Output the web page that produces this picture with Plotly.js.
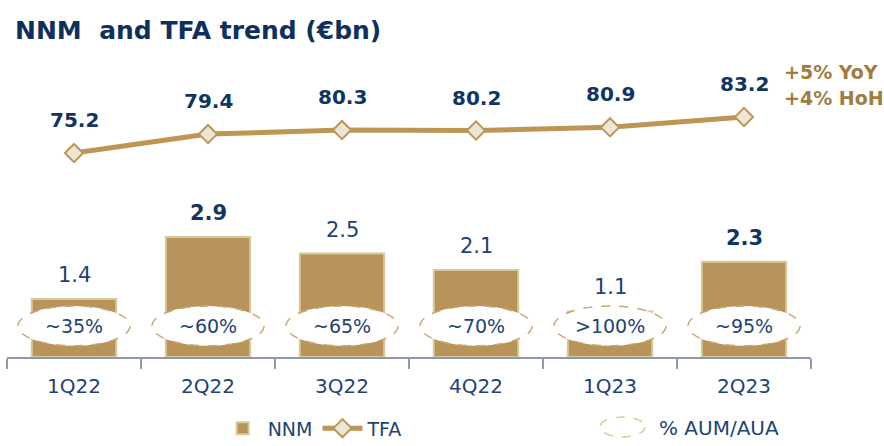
<!DOCTYPE html>
<html>
<head>
<meta charset="utf-8">
<script src="https://cdn.plot.ly/plotly-3.0.1.min.js"></script>
<style>html,body{margin:0;padding:0;background:#fff;}#chart{width:884px;height:446px;}</style>
</head>
<body>
<div id="chart"></div>
<script>
const categories = ['1Q22','2Q22','3Q22','4Q22','1Q23','2Q23'];
const nnm = [1.4, 2.9, 2.5, 2.1, 1.1, 2.3];
const nnmBold = [false, true, false, false, false, true];
const tfa = [75.2, 79.4, 80.3, 80.2, 80.9, 83.2];
const aumPct = ['~35%', '~60%', '~65%', '~70%', '>100%', '~95%'];
const growth = ['+5% YoY', '+4% HoH'];

const NAVY = '#0f3563';
const NAVY2 = '#1f4373';
const GOLD = '#b8935a';
const LINEGOLD = '#bd9656';
const FONT = 'DejaVu Sans';

const traces = [
  {
    type: 'bar', name: 'NNM', x: categories, y: nnm, width: 0.63,
    marker: {color: GOLD, line: {color: '#d8c99c', width: 2}},
    hoverinfo: 'skip', yaxis: 'y'
  },
  {
    type: 'scatter', mode: 'lines+markers', name: 'TFA', x: categories, y: tfa, yaxis: 'y2',
    line: {color: LINEGOLD, width: 5},
    marker: {symbol: 'diamond', size: 14, color: '#ebe6d6', line: {color: LINEGOLD, width: 2}},
    hoverinfo: 'skip'
  }
];

const annotations = [];
const shapes = [];
categories.forEach((c, i) => {
  annotations.push({
    xref: 'x', yref: 'y2', x: c, y: tfa[i], yshift: 33, showarrow: false,
    text: '<b>' + tfa[i].toFixed(1) + '</b>',
    font: {family: FONT, size: 20, color: NAVY}
  });
  annotations.push({
    xref: 'x', yref: 'y', x: c, y: nnm[i], yshift: 24, showarrow: false,
    text: nnmBold[i] ? '<b>' + nnm[i].toFixed(1) + '</b>' : nnm[i].toFixed(1),
    font: {family: FONT, size: 21, color: nnmBold[i] ? NAVY : NAVY2}
  });
  shapes.push({
    type: 'circle', xref: 'x', yref: 'y', layer: 'above',
    x0: i - 0.418, x1: i + 0.418, y0: 0.27, y1: 1.23,
    fillcolor: '#ffffff', line: {color: '#c9a673', width: 1.5, dash: 'dash'}
  });
  annotations.push({
    xref: 'x', yref: 'y', x: c, y: 0.75, showarrow: false,
    text: aumPct[i], font: {family: FONT, size: 19, color: NAVY2}
  });
});

growth.forEach((g, k) => {
  annotations.push({
    xref: 'paper', yref: 'paper', x: 0.964, y: k === 0 ? 0.899 : 0.817,
    xanchor: 'left', yanchor: 'middle', showarrow: false,
    text: '<b>' + g + '</b>', font: {family: FONT, size: 19, color: '#a07d3e'}
  });
});

// legend entry for % AUM/AUA
shapes.push({
  type: 'circle', xref: 'paper', yref: 'paper',
  x0: 0.7376, x1: 0.7935, y0: -0.252, y1: -0.189,
  fillcolor: 'rgba(0,0,0,0)', line: {color: '#ddcc99', width: 1.5, dash: 'dash'}
});
annotations.push({
  xref: 'paper', yref: 'paper', x: 0.808, y: -0.224, xanchor: 'left', yanchor: 'middle',
  showarrow: false, text: '% AUM/AUA', font: {family: FONT, size: 20, color: NAVY2}
});

const layout = {
  width: 884, height: 446,
  margin: {l: 7, r: 73, t: 40, b: 89, autoexpand: false},
  paper_bgcolor: '#ffffff', plot_bgcolor: '#ffffff',
  showlegend: true,
  legend: {
    orientation: 'h', x: 0.262, y: -0.165, xanchor: 'left', yanchor: 'top',
    font: {family: FONT, size: 19, color: NAVY2}, bgcolor: 'rgba(0,0,0,0)',
    itemwidth: 40
  },
  title: {
    text: '<b>NNM  and TFA trend (€bn)</b>',
    x: 15/884, xref: 'container', xanchor: 'left',
    y: 1 - 30/446, yref: 'container', yanchor: 'middle',
    font: {family: FONT, size: 25, color: '#0f305c'}
  },
  xaxis: {
    type: 'category', range: [-0.5, 5.5], showgrid: false, zeroline: false,
    showline: true, linecolor: '#8e97ad', linewidth: 2,
    ticks: 'outside', tickson: 'boundaries', ticklen: 10, tickcolor: '#8e97ad', tickwidth: 2,
    ticklabelstandoff: 10,
    tickfont: {family: FONT, size: 20, color: NAVY2}
  },
  yaxis: {range: [0, 7.657], visible: false, fixedrange: true},
  yaxis2: {range: [29.9, 100.3], overlaying: 'y', side: 'right', visible: false},
  bargap: 0.37,
  annotations: annotations,
  shapes: shapes
};

Plotly.newPlot('chart', traces, layout, {displayModeBar: false, staticPlot: true});
</script>
</body>
</html>
